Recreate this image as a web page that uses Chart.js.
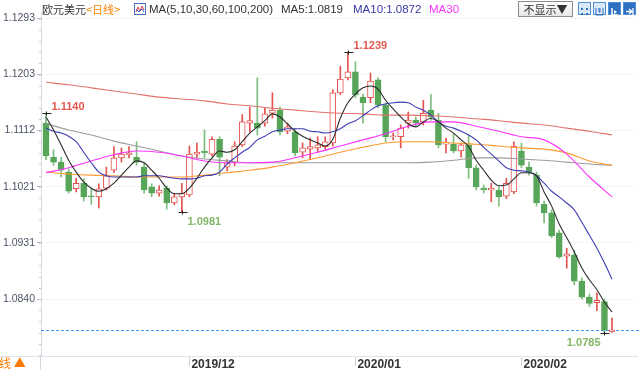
<!DOCTYPE html>
<html><head><meta charset="utf-8">
<script src="https://cdn.jsdelivr.net/npm/chart.js@4.4.1/dist/chart.umd.min.js"></script>
<style>
html,body{margin:0;padding:0;background:#fff;}
#wrap{position:relative;width:640px;height:370px;overflow:hidden;font-family:"Liberation Sans","Noto Sans CJK SC",Arial,sans-serif;}
#c{position:absolute;left:0;top:0;}
.h{position:absolute;top:1px;font-size:11.5px;line-height:16px;white-space:nowrap;color:#333;}
.cj{font-family:"Noto Sans CJK SC",sans-serif;font-size:11px;}
#btn{position:absolute;left:518px;top:1px;width:53px;height:14px;border:1px solid #8c8c8c;background:linear-gradient(#ffffff,#e6e6e6);font-size:11px;line-height:14px;text-align:center;color:#333;font-family:"Noto Sans CJK SC","Liberation Sans",sans-serif;}
.ic{position:absolute;top:2px;width:11px;height:11px;border:1px solid #4f8fd6;background:#dbe8f8;}
#foot{position:absolute;left:-1px;top:356px;font-size:12px;line-height:14px;color:#ff7a00;font-family:"Noto Sans CJK SC",sans-serif;}
</style></head><body>
<div id="wrap">
<canvas id="c" width="640" height="370"></canvas>
<span class="h cj" style="left:42px;">欧元美元</span>
<span class="h cj" style="left:86px;color:#ff8000;">&lt;日线&gt;</span>
<svg style="position:absolute;left:134px;top:3px" width="12" height="12"><rect x="0.5" y="0.5" width="11" height="11" fill="#fff" stroke="#4a6fc0"/><polyline points="2,9 4,4 6,8 8,3 10,7" fill="none" stroke="#e04040" stroke-width="1"/><polyline points="2,6 5,9 8,6 10,9" fill="none" stroke="#3a5fd0" stroke-width="1"/></svg>
<span class="h" id="maList" style="left:149px;"></span>
<span class="h" id="ma5t" style="left:281px;"></span>
<span class="h" id="ma10t" style="left:353px;color:#3a3aa8;"></span>
<span class="h" id="ma30t" style="left:429px;color:#ff33ff;"></span>
<div id="btn">不显示▼</div>
<div class="ic" style="left:578px"><svg width="11" height="11"><rect x="2" y="2" width="2" height="2" fill="#2f6fc0"/><rect x="7" y="2" width="2" height="2" fill="#2f6fc0"/><rect x="2" y="7" width="2" height="2" fill="#2f6fc0"/><rect x="7" y="7" width="2" height="2" fill="#2f6fc0"/></svg></div>
<div class="ic" style="left:593px"><svg width="11" height="11"><path d="M2 2v7h7V2M5 2v4h1V2" fill="none" stroke="#2f6fc0"/></svg></div>
<div class="ic" style="left:608px;background:#2f6fc0"><svg width="11" height="11"><path d="M3 2v7h6" fill="none" stroke="#fff" stroke-width="1.5"/><path d="M5 4l3 2-3 2z" fill="#fff"/></svg></div>
<div class="ic" style="left:623px;background:#2f6fc0"><svg width="11" height="11"><path d="M2 5.5h5M5 3l3 2.5-3 2.5M9 2v7" fill="none" stroke="#fff" stroke-width="1.3"/></svg></div>
<div id="foot">线 ▲</div>
</div>
<script>
const dates = ['2019-11-05','2019-11-06','2019-11-07','2019-11-08','2019-11-11','2019-11-12','2019-11-13','2019-11-14','2019-11-15','2019-11-18','2019-11-19','2019-11-20','2019-11-21','2019-11-22','2019-11-25','2019-11-26','2019-11-27','2019-11-28','2019-11-29',
'2019-12-02','2019-12-03','2019-12-04','2019-12-05','2019-12-06','2019-12-09','2019-12-10','2019-12-11','2019-12-12','2019-12-13','2019-12-16','2019-12-17','2019-12-18','2019-12-19','2019-12-20','2019-12-23','2019-12-24','2019-12-25','2019-12-26','2019-12-27','2019-12-30','2019-12-31',
'2020-01-02','2020-01-03','2020-01-06','2020-01-07','2020-01-08','2020-01-09','2020-01-10','2020-01-13','2020-01-14','2020-01-15','2020-01-16','2020-01-17','2020-01-20','2020-01-21','2020-01-22','2020-01-23','2020-01-24','2020-01-27','2020-01-28','2020-01-29','2020-01-30','2020-01-31',
'2020-02-03','2020-02-04','2020-02-05','2020-02-06','2020-02-07','2020-02-10','2020-02-11','2020-02-12','2020-02-13','2020-02-14','2020-02-17','2020-02-18','2020-02-19'];

const opens = [1.1124,1.1069,1.1061,1.1045,1.1018,1.1027,1.1006,1.1005,1.1019,1.1048,
1.1068,1.1073,1.1069,1.1053,1.1021,1.1011,1.1019,1.0995,1.1005,1.1008,
1.1074,1.1079,1.1074,1.1098,1.1053,1.1060,1.1089,1.1124,1.1124,1.1124,
1.1140,1.1145,1.1111,1.1110,1.1077,1.1082,1.1084,1.1086,1.1092,1.1173,
1.1197,1.1207,1.1166,1.1165,1.1194,1.1153,1.1102,1.1102,1.1124,1.1129,
1.1126,1.1145,1.1129,1.1090,1.1090,1.1079,1.1089,1.1052,1.1019,1.1016,
1.1016,1.1006,1.1013,1.1079,1.1053,1.1040,1.0993,1.0979,1.0947,1.0909,
1.0911,1.0869,1.0843,1.0834,1.0836,1.0787];
const highs = [1.1140,1.1081,1.1069,1.1050,1.1035,1.1034,1.1018,1.1026,1.1053,1.1086,
1.1084,1.1086,1.1094,1.1060,1.1026,1.1023,1.1023,1.1011,1.1027,1.1087,
1.1092,1.1113,1.1102,1.1102,1.1065,1.1094,1.1138,1.1150,1.1197,1.1149,
1.1173,1.1150,1.1124,1.1115,1.1092,1.1100,1.1102,1.1102,1.1178,1.1216,
1.1239,1.1223,1.1171,1.1205,1.1197,1.1157,1.1108,1.1121,1.1142,1.1134,
1.1161,1.1170,1.1140,1.1100,1.1107,1.1092,1.1105,1.1056,1.1024,1.1027,
1.1021,1.1035,1.1094,1.1092,1.1061,1.1045,1.0998,1.0984,1.0951,1.0922,
1.0919,1.0874,1.0848,1.0850,1.0840,1.0809];
const lows = [1.1065,1.1056,1.1037,1.1011,1.1013,1.0998,1.0993,1.0987,1.1016,1.1044,
1.1061,1.1068,1.1056,1.1011,1.1005,1.1006,1.0985,1.0992,1.0981,1.1005,
1.1068,1.1068,1.1071,1.1039,1.1047,1.1055,1.1086,1.1110,1.1105,1.1119,
1.1132,1.1105,1.1107,1.1071,1.1068,1.1065,1.1077,1.1081,1.1087,1.1170,
1.1194,1.1165,1.1124,1.1157,1.1149,1.1094,1.1097,1.1084,1.1116,1.1119,
1.1121,1.1129,1.1084,1.1076,1.1076,1.1069,1.1035,1.1016,1.1011,1.0997,
1.0990,1.1002,1.1010,1.1052,1.1040,1.0990,1.0963,1.0939,1.0906,1.0890,
1.0863,1.0840,1.0828,1.0821,1.0785,1.0786];
const closes = [1.1071,1.1061,1.1048,1.1014,1.1027,1.1005,1.1005,1.1018,1.1039,1.1068,
1.1074,1.1076,1.1061,1.1016,1.1011,1.1016,1.0995,1.1005,1.1011,1.1074,
1.1077,1.1076,1.1098,1.1069,1.1060,1.1087,1.1126,1.1128,1.1116,1.1139,
1.1145,1.1110,1.1118,1.1076,1.1084,1.1086,1.1089,1.1094,1.1173,1.1195,
1.1207,1.1170,1.1157,1.1192,1.1153,1.1102,1.1103,1.1116,1.1129,1.1124,
1.1140,1.1134,1.1089,1.1092,1.1079,1.1089,1.1052,1.1021,1.1016,1.1019,
1.1005,1.1027,1.1087,1.1056,1.1045,1.0995,1.0979,1.0942,1.0908,1.0913,
1.0869,1.0843,1.0833,1.0838,1.0790,1.0790];

const ma5 = [1.1134,1.1113,1.1089,1.1064,1.1045,1.1029,1.1019,1.1014,1.1018,1.1027,
1.1040,1.1053,1.1063,1.1060,1.1048,1.1035,1.1019,1.1010,1.1010,1.1019,
1.1035,1.1053,1.1068,1.1079,1.1077,1.1081,1.1094,1.1108,1.1118,1.1128,
1.1139,1.1134,1.1123,1.1111,1.1103,1.1097,1.1092,1.1087,1.1098,1.1132,
1.1157,1.1171,1.1181,1.1184,1.1179,1.1161,1.1147,1.1134,1.1123,1.1118,
1.1126,1.1132,1.1126,1.1116,1.1108,1.1097,1.1086,1.1064,1.1048,1.1032,
1.1023,1.1024,1.1034,1.1044,1.1044,1.1039,1.1013,1.0990,1.0961,1.0939,
1.0916,1.0890,1.0871,1.0855,1.0835,1.0819];
const ma10 = [1.1116,1.1111,1.1108,1.1103,1.1094,1.1077,1.1060,1.1045,1.1039,1.1037,
1.1037,1.1037,1.1037,1.1039,1.1039,1.1039,1.1037,1.1035,1.1034,1.1034,
1.1035,1.1039,1.1040,1.1045,1.1058,1.1068,1.1077,1.1085,1.1097,1.1103,
1.1110,1.1113,1.1115,1.1115,1.1115,1.1111,1.1110,1.1108,1.1110,1.1115,
1.1123,1.1128,1.1136,1.1145,1.1152,1.1155,1.1157,1.1158,1.1157,1.1150,
1.1145,1.1137,1.1126,1.1119,1.1116,1.1111,1.1105,1.1097,1.1085,1.1074,
1.1063,1.1052,1.1048,1.1047,1.1045,1.1039,1.1027,1.1014,1.1005,1.0995,
1.0984,1.0964,1.0943,1.0922,1.0898,1.0872];

const maSampleIdx = [0,3,6,9,12,15,18,21,24,27,30,33,36,39,42,45,48,51,54,57,60,63,66,69,72,75];
const ma30 = [1.1044,1.1052,1.1063,1.1073,1.1079,1.1077,1.1071,1.1063,1.1060,1.1060,1.1061,1.1068,1.1077,1.1087,1.1097,1.1107,1.1119,1.1126,1.1126,1.1119,1.1111,1.1102,1.1097,1.1074,1.1037,1.1005];
const ma60 = [1.1045,1.1042,1.1040,1.1039,1.1037,1.1037,1.1037,1.1040,1.1044,1.1048,1.1053,1.1060,1.1068,1.1077,1.1085,1.1092,1.1094,1.1094,1.1092,1.1090,1.1087,1.1084,1.1082,1.1076,1.1063,1.1056];
const ma100 = [1.1123,1.1113,1.1105,1.1095,1.1087,1.1079,1.1071,1.1066,1.1063,1.1060,1.1060,1.1060,1.1060,1.1060,1.1060,1.1060,1.1060,1.1061,1.1064,1.1068,1.1068,1.1066,1.1064,1.1061,1.1058,1.1056];
const ma200 = [1.1190,1.1186,1.1181,1.1176,1.1171,1.1166,1.1163,1.1160,1.1155,1.1152,1.1148,1.1145,1.1142,1.1140,1.1139,1.1137,1.1137,1.1136,1.1134,1.1131,1.1128,1.1124,1.1121,1.1116,1.1111,1.1105];
const maPeriods = [5,10,30,60,100,200];

const yTickLabels = ['1.0840','1.0931','1.1021','1.1112','1.1203','1.1293'];
const xTickLabels = ['2019/12','2020/01','2020/02'];
const markIdx = [0, 40, 18, 74];
const markKind = ['high','high','low','low'];

const n = dates.length;
const RED = '#e4534f', GREEN = '#56a558', GREEN_W = '#7dbd7e';
const isUp = closes.map((c,i)=>c>=opens[i]);
const xTickIdx = xTickLabels.map(l => dates.findIndex(d => d.slice(0,7) === l.replace('/','-')));

document.getElementById('maList').textContent = 'MA(' + maPeriods.join(',') + ')';
document.getElementById('ma5t').textContent = 'MA5:' + ma5[n-1].toFixed(4);
document.getElementById('ma10t').textContent = 'MA10:' + ma10[n-1].toFixed(4);
document.getElementById('ma30t').textContent = 'MA30';

const seq = arr => arr.map((v,i)=>({x:i,y:v}));
const sparse = arr => arr.map((v,k)=>({x:maSampleIdx[k],y:v}));
const lineDs = (label, data, color) => ({type:'line', label, data, borderColor:color, borderWidth:1.1, pointRadius:0, cubicInterpolationMode:'monotone', fill:false, order:0});

const extras = {
  id:'extras',
  beforeDatasetsDraw(chart){
    const {ctx, chartArea:a, scales:{y}} = chart;
    const py = Math.round(y.getPixelForValue(closes[n-1])) + 0.5;
    ctx.save();
    ctx.strokeStyle = '#3a93f0'; ctx.lineWidth = 1; ctx.setLineDash([3,2]);
    ctx.beginPath(); ctx.moveTo(a.left, py); ctx.lineTo(chart.width, py); ctx.stroke();
    ctx.restore();
  },
  afterDraw(chart){
    const {ctx, chartArea:a, scales:{x,y}} = chart;
    ctx.save();
    ctx.strokeStyle = '#dfe3e8'; ctx.lineWidth = 1;
    ctx.beginPath(); ctx.moveTo(0, a.bottom + 0.5); ctx.lineTo(a.left, a.bottom + 0.5); ctx.stroke();
    ctx.strokeStyle = '#d3d9e1';
    ctx.beginPath(); ctx.moveTo(a.left - 0.5, a.bottom); ctx.lineTo(a.left - 0.5, chart.height); ctx.stroke();
    ctx.strokeStyle = '#cfcfcf';
    xTickIdx.forEach(i => { const px = Math.round(x.getPixelForValue(i)) + 0.5; ctx.beginPath(); ctx.moveTo(px, a.bottom + 1); ctx.lineTo(px, a.bottom + 10); ctx.stroke(); });
    ctx.strokeStyle = '#c3cbd6';
    const tv = yTickLabels.map(parseFloat);
    const step = (tv[tv.length-1] - tv[0]) / (tv.length - 1) / 5;
    for (let v = tv[0] - step*6; v < tv[tv.length-1] + step*3; v += step) {
      const py = y.getPixelForValue(v);
      if (py < a.top || py > a.bottom) continue;
      ctx.beginPath(); ctx.moveTo(a.left - 2, Math.round(py) + 0.5); ctx.lineTo(a.left, Math.round(py) + 0.5); ctx.stroke();
    }
    ctx.font = 'bold 11px "Liberation Sans", Arial, sans-serif';
    ctx.textBaseline = 'middle';
    markIdx.forEach((idx, k) => {
      const high = markKind[k] === 'high';
      const v = high ? highs[idx] : lows[idx];
      const px = Math.round(x.getPixelForValue(idx)) + 0.5;
      const py = Math.round(y.getPixelForValue(v)) + 0.5;
      ctx.strokeStyle = '#222'; ctx.lineWidth = 1;
      ctx.beginPath(); ctx.moveTo(px - 4, py); ctx.lineTo(px + 5, py); ctx.stroke();
      ctx.beginPath(); ctx.moveTo(px, py - 2); ctx.lineTo(px, py + 2); ctx.stroke();
      ctx.fillStyle = high ? '#e2574f' : '#84b866';
      const nearRight = px > a.right - 60;
      ctx.textAlign = nearRight ? 'right' : 'left';
      const tx = nearRight ? px - 4 : px + 5;
      const ty = high ? py - 7 : py + 9;
      ctx.fillText(v.toFixed(4), tx, ty);
    });
    ctx.restore();
  }
};

new Chart(document.getElementById('c'), {
  type: 'bar',
  data: {
    datasets: [
      lineDs('MA5', seq(ma5), '#2d2d2d'),
      lineDs('MA10', seq(ma10), '#3d3db5'),
      lineDs('MA30', sparse(ma30), '#ff33ff'),
      lineDs('MA60', sparse(ma60), '#ff9a2e'),
      lineDs('MA100', sparse(ma100), '#9d9d9d'),
      lineDs('MA200', sparse(ma200), '#e2726b'),
      {type:'bar', label:'body', data: dates.map((d,i)=>({x:i, y:[opens[i], closes[i]]})),
       backgroundColor: isUp.map(u=>u?'#ffffff':GREEN), borderColor: isUp.map(u=>u?RED:GREEN),
       borderWidth:1, borderSkipped:false, barThickness:6, grouped:false, minBarLength:1, order:1},
      {type:'bar', label:'wick', data: dates.map((d,i)=>({x:i, y:[lows[i], highs[i]]})),
       backgroundColor: isUp.map(u=>u?RED:GREEN_W), borderWidth:0, barThickness:1, grouped:false, order:2}
    ]
  },
  options: {
    responsive:false, animation:false, events:[],
    layout:{padding:{top:12, right:3, left:0, bottom:0}},
    plugins:{legend:{display:false}, tooltip:{enabled:false}},
    scales:{
      x:{type:'linear', offset:false, min:-0.6625, max:78.31,
         afterBuildTicks: s => { s.ticks = xTickIdx.map(v=>({value:v})); },
         afterFit: s => { s.height = 14; },
         ticks:{callback:(v,i)=>xTickLabels[i], align:'start', labelOffset:2, padding:1, maxRotation:0, autoSkip:false,
                font:{family:'"Liberation Sans", Arial, sans-serif', size:12, weight:'bold'}, color:'#333'},
         grid:{display:true, drawOnChartArea:false, drawTicks:false},
         border:{display:true, color:'#e0e3e8'}},
      y:{type:'linear', position:'left', beginAtZero:false, min:1.074795, max:1.130351,
         afterBuildTicks: s => { s.ticks = yTickLabels.map(l=>({value:parseFloat(l)})); },
         afterFit: s => { s.width = 41; },
         ticks:{callback:(v,i)=>yTickLabels[i], padding:2,
                font:{family:'"Liberation Sans", Arial, sans-serif', size:10.5}, color:'#4b5466'},
         grid:{color:'#e9ecf1', tickColor:'#b5bdc8', tickLength:4},
         border:{display:true, color:'#d3d9e1', dash:[2,2]}}
    }
  },
  plugins:[extras]
});
</script>
</body></html>
